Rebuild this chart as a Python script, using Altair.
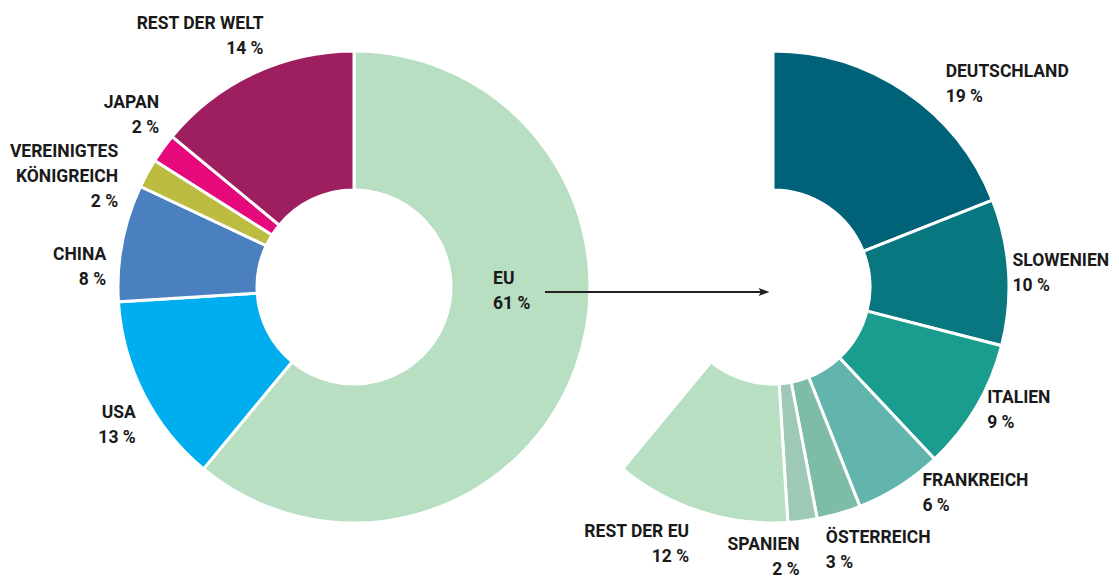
import math
import altair as alt
import pandas as pd

# ---- data ----
world_names = ["EU", "USA", "CHINA", "VEREINIGTES\nKÖNIGREICH", "JAPAN", "REST DER WELT"]
world_values = [61, 13, 8, 2, 2, 14]
world_colors = ["#b8dfc2", "#00adee", "#4a80c0", "#bcbd40", "#e5097b", "#9e1f60"]

eu_names = ["DEUTSCHLAND", "SLOWENIEN", "ITALIEN", "FRANKREICH", "ÖSTERREICH", "SPANIEN", "REST DER EU"]
eu_values = [19, 10, 9, 6, 3, 2, 12]
eu_colors = ["#006278", "#08777f", "#1a9c8e", "#61b5ad", "#7dbca6", "#9dc9b6", "#b8dfc2"]

# ---- layout ----
W, H = 1103, 572
C1 = (346, 279)
C2 = (765, 279)
R_OUT, R_IN = 236, 97
FONT = "Roboto, Lato, sans-serif"
FS = 17.5
LH = 25
world_label_offsets = [(-83, -97), (-8, 10), (-16, 3), (-29, -30), (-4, -54), (10, -58)]
world_align = ["left", "right", "right", "right", "right", "right"]
eu_label_offsets = [(40, -29), (4, -20), (11, -18), (23, -14), (-13, 15), (-3, 15), (-11, 12)]
eu_align = ["left", "left", "left", "left", "left", "right", "right"]


def slice_frame(names, values, colors, offsets, aligns, center):
    rows = []
    cum = 0
    for i, (n, v, c) in enumerate(zip(names, values, colors)):
        mid = (cum + v / 2) / 100 * 2 * math.pi
        ax = center[0] + R_OUT * math.sin(mid)
        ay = center[1] - R_OUT * math.cos(mid)
        rows.append({
            "idx": i, "name": n, "value": v, "color": c,
            "label": f"{n}\n{v} %",
            "lx": ax + offsets[i][0], "ly": ay + offsets[i][1],
            "align": aligns[i],
        })
        cum += v
    return pd.DataFrame(rows)


world = slice_frame(world_names, world_values, world_colors, world_label_offsets, world_align, C1)
eu = slice_frame(eu_names, eu_values, eu_colors, eu_label_offsets, eu_align, C2)

theta = alt.Theta("value:Q", stack=True, scale=alt.Scale(domain=[0, 100], range=[0, 2 * math.pi]))


def donut(df, center):
    return alt.Chart(df).mark_arc(
        outerRadius=R_OUT, innerRadius=R_IN, stroke="white", strokeWidth=3
    ).encode(
        theta=theta,
        order=alt.Order("idx:Q"),
        color=alt.Color("color:N", scale=None),
        x=alt.value(center[0]),
        y=alt.value(center[1]),
    )


xs = alt.X("lx:Q", scale=alt.Scale(domain=[0, W], range=[0, W]), axis=None)
ys = alt.Y("ly:Q", scale=alt.Scale(domain=[0, H], range=[0, H]), axis=None)


def labels(df):
    out = []
    for a in ["left", "right"]:
        out.append(
            alt.Chart(df).transform_filter(alt.datum.align == a).mark_text(
                align=a, baseline="top", font=FONT, fontSize=FS, fontWeight="bold",
                lineBreak="\n", lineHeight=LH, color="#1a1a1a"
            ).encode(x=xs, y=ys, text="label:N")
        )
    return out


one = pd.DataFrame({"a": [0]})
arrow_line = alt.Chart(one).mark_rule(color="#222222", strokeWidth=1.8).encode(
    x=alt.value(537), x2=alt.value(756), y=alt.value(284)
)
arrow_head = alt.Chart(one).mark_point(
    shape="M-1,-0.75L1,0L-1,0.75L-0.55,0Z", filled=True, color="#222222", size=120, opacity=1
).encode(x=alt.value(756), y=alt.value(284))

chart = alt.layer(
    donut(world, C1), donut(eu, C2), arrow_line, arrow_head, *labels(world), *labels(eu)
).properties(
    width=W, height=H, padding=0, autosize=alt.AutoSizeParams(type="none")
).configure_view(stroke=None)

chart.save("out.html", embed_options={"renderer": "svg", "actions": False})
